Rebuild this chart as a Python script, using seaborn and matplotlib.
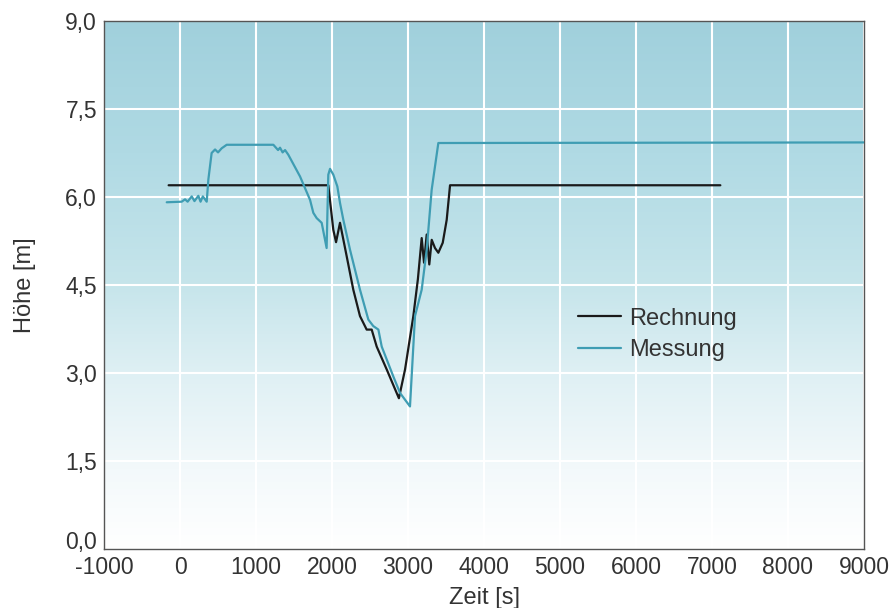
import numpy as np
import pandas as pd
import matplotlib
matplotlib.use("Agg")
import matplotlib.pyplot as plt
from matplotlib.colors import LinearSegmentedColormap
from matplotlib.ticker import FuncFormatter
import seaborn as sns

# Rechnung (black)
rechnung_t = [-150, 1951, 2017, 2053, 2105, 2193, 2280, 2368, 2456, 2522, 2588, 2720,
              2880, 2961, 3070, 3130, 3180, 3211, 3246, 3280, 3312, 3355, 3399,
              3457, 3509, 3553, 7110]
rechnung_h = [6.2, 6.2, 5.44, 5.23, 5.56, 4.99, 4.42, 3.97, 3.74, 3.74, 3.45, 3.06,
              2.57, 3.06, 3.97, 4.6, 5.30, 4.88, 5.36, 4.85, 5.27, 5.13, 5.05,
              5.22, 5.61, 6.2, 6.2]

# Messung (teal)
messung_t = [-175, 22, 66, 100, 154, 190, 241, 270, 300, 351, 373, 416, 461, 500,
             548, 614, 1228, 1290, 1316, 1350, 1382, 1425, 1579, 1711, 1754, 1798,
             1864, 1929, 1951, 1974, 2017, 2070, 2105, 2149, 2237, 2368, 2478, 2543,
             2610, 2654, 2807, 2895, 3026, 3092, 3180, 3246, 3311, 3399, 9000]
messung_h = [5.91, 5.92, 5.96, 5.92, 6.01, 5.93, 6.02, 5.92, 6.01, 5.92, 6.3, 6.75,
             6.81, 6.76, 6.83, 6.89, 6.89, 6.80, 6.84, 6.76, 6.80, 6.72, 6.35, 5.95,
             5.73, 5.64, 5.56, 5.13, 6.38, 6.48, 6.38, 6.18, 5.90, 5.61, 5.10, 4.42,
             3.91, 3.80, 3.74, 3.45, 2.94, 2.66, 2.43, 3.97, 4.42, 5.10, 6.12, 6.92,
             6.93]

x_ticks = list(range(-1000, 9001, 1000))
y_ticks = [0, 1.5, 3.0, 4.5, 6.0, 7.5, 9.0]

df = pd.concat([
    pd.DataFrame({"Zeit": rechnung_t, "Hoehe": rechnung_h, "Serie": "Rechnung"}),
    pd.DataFrame({"Zeit": messung_t, "Hoehe": messung_h, "Serie": "Messung"}),
], ignore_index=True)

sns.set_style("white")
plt.rcParams["font.family"] = ["Liberation Sans", "DejaVu Sans"]
plt.rcParams["axes.unicode_minus"] = False
text_col = "#333333"

fig = plt.figure(figsize=(8.93, 6.08), dpi=100)
ax = fig.add_axes([0.1165, 0.097, 0.8510, 0.8685])

# background gradient: teal at top fading to white at bottom
cmap = LinearSegmentedColormap.from_list(
    "bg", [(0.0, "#ffffff"), (0.15, "#f3f9fb"), (0.33, "#dff0f4"),
           (0.5, "#c6e5eb"), (0.75, "#b0dae4"), (1.0, "#a0d0dc")])
grad = np.linspace(0, 1, 256).reshape(-1, 1)
ax.imshow(grad, cmap=cmap, origin="lower", aspect="auto",
          extent=[-1000, 9000, 0, 9], zorder=0)

sns.lineplot(data=df, x="Zeit", y="Hoehe", hue="Serie",
             palette={"Rechnung": "#1a1a1a", "Messung": "#3f9db3"},
             estimator=None, sort=False, linewidth=1.6, ax=ax, zorder=3)

ax.set_xlim(-1000, 9000)
ax.set_ylim(0, 9)
ax.set_xticks(x_ticks)
ax.set_yticks(y_ticks)
ax.yaxis.set_major_formatter(FuncFormatter(lambda v, p: f"{v:.1f}".replace(".", ",")))
ax.grid(True, color="white", linewidth=1.5)
ax.set_axisbelow(True)
ax.tick_params(axis="both", length=0, labelsize=16.5, labelcolor=text_col)
ax.tick_params(axis="x", pad=5)
ax.tick_params(axis="y", pad=5)
ax.yaxis.get_major_ticks()[0].label1.set_verticalalignment("baseline")

for s in ax.spines.values():
    s.set_color("#555555")
    s.set_linewidth(1.0)

ax.set_xlabel("Zeit [s]", fontsize=17, color=text_col)
ax.set_ylabel("Höhe [m]", fontsize=17, color=text_col)
ax.xaxis.set_label_coords(0.5, -0.071)
ax.yaxis.set_label_coords(-0.089, 0.5)

handles, labels = ax.get_legend_handles_labels()
ax.legend(handles, labels, loc="upper left", bbox_to_anchor=(0.624, 0.457),
          frameon=False, fontsize=17, handlelength=1.8, handletextpad=0.35,
          labelspacing=0.4, borderpad=0, borderaxespad=0, labelcolor=text_col)

fig.savefig("out.png", dpi=100)
